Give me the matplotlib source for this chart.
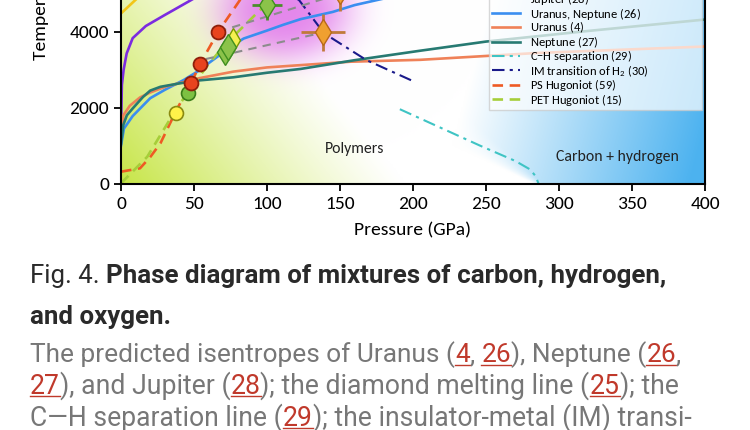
import numpy as np
import matplotlib
matplotlib.use("Agg")
import matplotlib.pyplot as plt
from matplotlib import font_manager
from matplotlib.lines import Line2D

# ---- isentropes / phase lines (pressure in GPa, temperature in K) ----
diamond_p = [0, 10, 30]
diamond_t = [4480, 4840, 5500]

jupiter_p = [0.2, 0.6, 1.8, 3.9, 8, 17, 30, 36, 47, 60]
jupiter_t = [1800, 2600, 3000, 3430, 3830, 4150, 4440, 4570, 4810, 5100]

uranep_p = [0, 2, 8, 20, 30, 43, 54, 61, 77, 84, 100, 111, 123, 145, 160, 175, 195]
uranep_t = [1000, 1450, 1780, 2250, 2470, 2730, 2990, 3200, 3650, 3820, 4030, 4180, 4330, 4520, 4700, 4830, 5000]

uranus_p = [0, 1.6, 6, 13, 20, 31, 54, 77, 100, 157, 205, 285, 400]
uranus_t = [1300, 1800, 2050, 2270, 2400, 2560, 2780, 2950, 3060, 3210, 3260, 3440, 3610]

neptune_p = [0, 1.6, 4, 8, 15, 20, 27, 40, 54, 77, 100, 123, 160, 205, 250, 320, 400]
neptune_t = [1050, 1550, 1800, 1980, 2280, 2450, 2550, 2640, 2720, 2800, 2920, 3020, 3250, 3500, 3740, 4020, 4320]

ch_p = [191, 246, 270, 280, 284, 286]
ch_t = [1960, 1000, 600, 380, 200, 0]

im_p = [115, 122, 139, 168, 200]
im_t = [5000, 4830, 3960, 3255, 2700]

ps_hug_p = [0, 13, 20, 27, 38, 48, 54, 66.6, 81.5, 90]
ps_hug_t = [316, 405, 700, 1063, 1940, 2640, 3140, 4000, 4834, 5300]

pet_hug_p = [0, 18, 36, 46, 60, 72, 100, 110]
pet_hug_t = [10, 710, 1850, 2420, 3150, 3690, 4750, 5100]

# reshock connections (grey dashed)
link_lo_p = [58, 138.6]
link_lo_t = [3280, 3980]
link_hi_p = [66.6, 150]
link_hi_t = [4000, 5000]

# ---- measured points ----
ps_pts_p = [48, 54.1, 66.6]
ps_pts_t = [2640, 3140, 4000]
pet_circ_p = [46]
pet_circ_t = [2400]
yel_circ_p = [37.5]
yel_circ_t = [1870]

grn_dia_p = [71, 73.5, 100]
grn_dia_t = [3470, 3610, 4700]
grn_dia_xerr = [4, 4, 10]
grn_dia_yerr = [150, 150, 400]
yel_dia_p = [77]
yel_dia_t = [3780]
org_dia_p = [138.6, 150]
org_dia_t = [3980, 5060]
org_dia_xerr = [15, 15]
org_dia_yerr = [475, 520]

# ---- caption ----
DARK = "#2a2a2a"
GREY = "#777777"
RED = "#c0392b"
title_lines = [
    [("Fig. 4. ", "normal", DARK, False),
     ("Phase diagram of mixtures of carbon, hydrogen,", "bold", DARK, False)],
    [("and oxygen.", "bold", DARK, False)],
]
body_lines = [
    [("The predicted isentropes of Uranus (", "normal", GREY, False), ("4", "normal", RED, True),
     (", ", "normal", GREY, False), ("26", "normal", RED, True),
     ("), Neptune (", "normal", GREY, False), ("26", "normal", RED, True), (",", "normal", GREY, False)],
    [("27", "normal", RED, True), ("), and Jupiter (", "normal", GREY, False), ("28", "normal", RED, True),
     ("); the diamond melting line (", "normal", GREY, False), ("25", "normal", RED, True),
     ("); the", "normal", GREY, False)],
    [("C\u2014H separation line (", "normal", GREY, False), ("29", "normal", RED, True),
     ("); the insulator-metal (IM) transi-", "normal", GREY, False)],
]


def pick_font(*names):
    avail = {f.name for f in font_manager.fontManager.ttflist}
    for n in names:
        if n in avail:
            return n
    return "DejaVu Sans"


chart_font = pick_font("Carlito", "Calibri", "Lato")
cap_font = pick_font("Roboto", "Open Sans")
fs_scale = 1.0 if chart_font in ("Carlito", "Calibri") else 0.95

plt.rcParams["font.family"] = [chart_font, "DejaVu Sans"]
plt.rcParams["mathtext.fontset"] = "custom"
plt.rcParams["mathtext.rm"] = chart_font
plt.rcParams["mathtext.it"] = chart_font + ":italic"

W, H = 750, 430
fig = plt.figure(figsize=(W / 100, H / 100), dpi=100)
fig.patch.set_facecolor("white")
ax = fig.add_axes([121 / W, (H - 183.7) / H, 584 / W, 228 / H])

# background shading
pp, tt = np.meshgrid(np.linspace(0, 400, 401), np.linspace(0, 6000, 301))
bg = np.ones(pp.shape + (3,))
wg = np.clip(1 - pp / 195 - tt / 9500, 0, 1) ** 1.15
bg = bg * (1 - wg[..., None]) + np.array([0.78, 0.90, 0.28]) * wg[..., None]
s = pp + 0.042 * tt - 286
edge = np.clip((s + 3 + tt / 80) / (6 + tt / 40), 0, 1)
wb = np.clip(-1.30 + 0.0059 * pp - 4e-5 * tt, 0, 1) * edge
bg = bg * (1 - wb[..., None]) + np.array([0.30, 0.70, 0.94]) * wb[..., None]
r2 = ((pp - 112) / 46) ** 2 + ((tt - 4600) / 1350) ** 2
wp = 0.75 * np.exp(-r2 ** 1.6)
bg = bg * (1 - wp[..., None]) + np.array([0.86, 0.38, 0.90]) * wp[..., None]
ax.imshow(bg, extent=(0, 400, 0, 6000), origin="lower", aspect="auto",
          interpolation="bilinear", zorder=0)

lw = 1.9
ax.plot(diamond_p, diamond_t, color="#f2c618", lw=lw, label=r"Diamond melting ($\mathit{25}$)")
ax.plot(jupiter_p, jupiter_t, color="#7b2be0", lw=lw, label=r"Jupiter ($\mathit{28}$)")
ax.plot(uranep_p, uranep_t, color="#3a8ef0", lw=lw, label=r"Uranus, Neptune ($\mathit{26}$)")
ax.plot(uranus_p, uranus_t, color="#ef8158", lw=lw, label=r"Uranus ($\mathit{4}$)")
ax.plot(neptune_p, neptune_t, color="#277a72", lw=lw, label=r"Neptune ($\mathit{27}$)")
ax.plot(ch_p, ch_t, color="#3fc4c4", lw=1.5, dashes=(6, 2.5, 1.5, 2.5),
        label=r"C$-$H separation ($\mathit{29}$)")
ax.plot(im_p, im_t, color="#1a1a8a", lw=1.5, dashes=(6, 2.5, 1.5, 2.5),
        label=r"IM transition of H$_2$ ($\mathit{30}$)")
ax.plot(link_lo_p, link_lo_t, color="#8c8c8c", lw=1.5, dashes=(4, 3), zorder=3)
ax.plot(link_hi_p, link_hi_t, color="#8c8c8c", lw=1.5, dashes=(4, 3), zorder=3)
ax.plot(ps_hug_p, ps_hug_t, color="#ee5a24", lw=lw, dashes=(4, 2.5), label=r"PS Hugoniot ($\mathit{59}$)")
ax.plot(pet_hug_p, pet_hug_t, color="#a6ce39", lw=lw, dashes=(4, 2.5), label=r"PET Hugoniot ($\mathit{15}$)")

# measured points
ax.errorbar(org_dia_p, org_dia_t, xerr=org_dia_xerr, yerr=org_dia_yerr, fmt="d", ms=13,
            mfc="#f0a030", mec="#b8691a", ecolor="#c07a3a", elinewidth=2, capsize=0, zorder=5)
ax.errorbar(grn_dia_p, grn_dia_t, xerr=grn_dia_xerr, yerr=grn_dia_yerr, fmt="d", ms=13,
            mfc="#8bc34a", mec="#3f8f1f", ecolor="#4a8f2a", elinewidth=2, capsize=0, zorder=5)
ax.plot(yel_dia_p, yel_dia_t, "d", ms=12, mfc="#f5f050", mec="#7a9a00", zorder=4)
ax.plot(yel_circ_p, yel_circ_t, "o", ms=10, mfc="#fff24a", mec="#8a8a10", mew=1.2, zorder=6)
ax.plot(pet_circ_p, pet_circ_t, "o", ms=10, mfc="#7dc142", mec="#3a7d1a", mew=1.2, zorder=6)
ax.plot(ps_pts_p, ps_pts_t, "o", ms=10, mfc="#e8431e", mec="#8e1f0b", mew=1.3, zorder=7)

ax.text(160, 910, "Polymers", ha="center", va="center", fontsize=11.3 * fs_scale, color="#222222")
ax.text(340, 705, "Carbon + hydrogen", ha="center", va="center", fontsize=11.3 * fs_scale, color="#222222")

ax.set_xlim(0, 400)
ax.set_ylim(0, 6000)
ax.set_xticks([0, 50, 100, 150, 200, 250, 300, 350, 400])
ax.set_yticks([0, 2000, 4000, 6000])
ax.tick_params(direction="out", length=5, width=1.3, labelsize=14 * fs_scale, right=False, top=False)
for sp in ax.spines.values():
    sp.set_linewidth(1.5)
ax.set_xlabel("Pressure (GPa)", fontsize=14 * fs_scale, labelpad=8)
ax.set_ylabel("Temperature (K)", fontsize=14 * fs_scale, ha="left", va="center")
ax.yaxis.set_label_coords(-0.137, 0.5425)

# legend box spans 489..702 px, bottom at 110 px
leg = ax.legend(loc="lower left", bbox_to_anchor=((489 - 121) / 584, 0.323, (702 - 489) / 584, 0.5),
                mode="expand", borderaxespad=0,
                fontsize=9 * fs_scale, handlelength=2.3, handletextpad=0.8, labelspacing=-0.12,
                fancybox=False, framealpha=0.7, edgecolor="#c8c8c8", borderpad=0.2)

# ---- caption below the chart ----
renderer = fig.canvas.get_renderer()


def text_width(s, **kw):
    t = fig.text(0, 0, s + "|", **kw)
    w1 = t.get_window_extent(renderer).width
    t.set_text("|")
    w2 = t.get_window_extent(renderer).width
    t.remove()
    return w1 - w2


def segs_width(segs, size):
    return sum(text_width(s, fontsize=size, fontweight=wt, family=cap_font) for s, wt, c, link in segs)


def draw_line(segs, x0, base_y, size):
    x = x0
    for s, wt, c, link in segs:
        kw = dict(fontsize=size, fontweight=wt, family=cap_font)
        fig.text(x / W, 1 - base_y / H, s, color=c, va="baseline", ha="left", **kw)
        w = text_width(s, **kw)
        if link:
            fig.add_artist(Line2D([x / W, (x + w) / W], [1 - (base_y + 2.5) / H] * 2, color=c, lw=1.0))
        x += w


title_size = 13.5 * 634 / segs_width(title_lines[0], 13.5)
draw_line(title_lines[0], 30, 283.5, title_size)
draw_line(title_lines[1], 30, 324, title_size)

# body lines: (baseline y, right edge) in pixels
body_pos = [(362, 683), (393.5, 678), (425.5, 692)]
for segs, (y, x1) in zip(body_lines, body_pos):
    size = 15.0 * (x1 - 30) / segs_width(segs, 15.0)
    draw_line(segs, 30, y, size)

fig.savefig("out.png", dpi=100)
